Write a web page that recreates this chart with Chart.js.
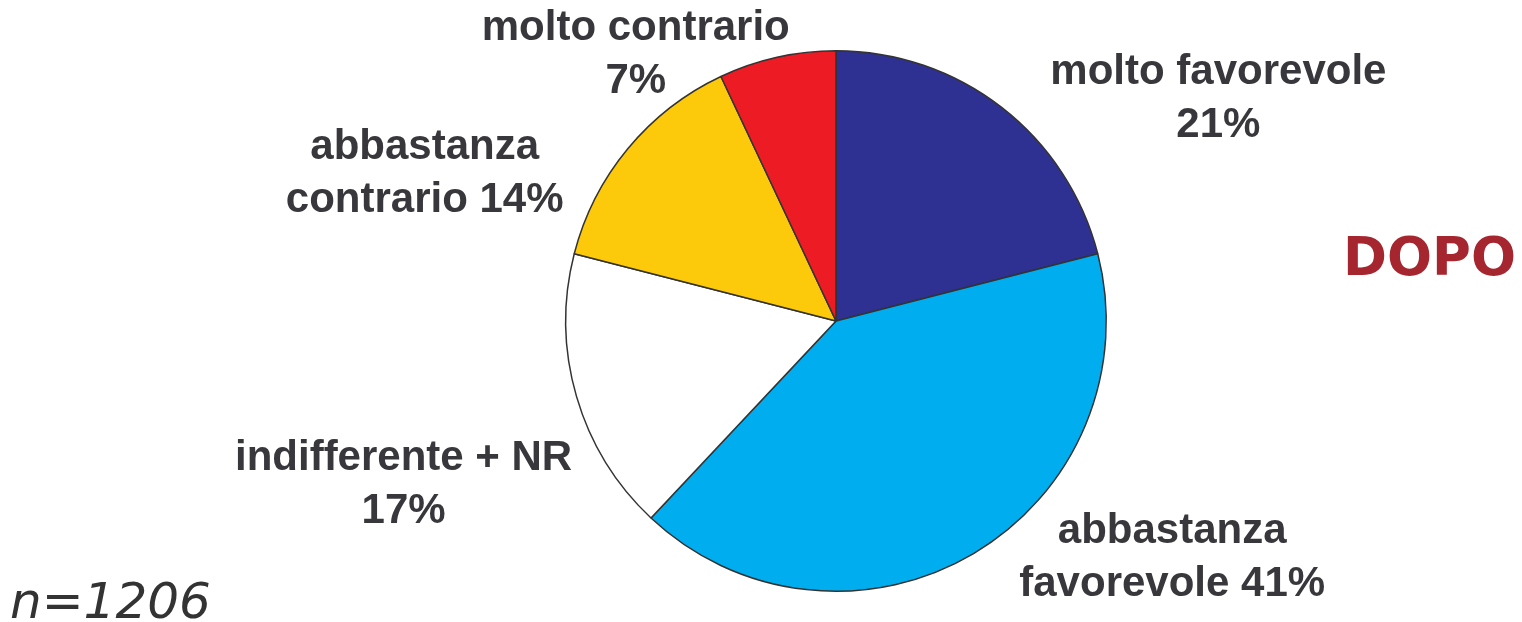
<!DOCTYPE html>
<html>
<head>
<meta charset="utf-8">
<script src="https://cdn.jsdelivr.net/npm/chart.js@4.4.0/dist/chart.umd.min.js"></script>
<style>
  html, body { margin: 0; padding: 0; background: #ffffff; }
  #wrap { position: relative; width: 1522px; height: 622px; }
</style>
</head>
<body>
<div id="wrap"><canvas id="pieChart" width="1522" height="622"></canvas></div>
<script>
// Data (clockwise from 12 o'clock)
const categories = ['molto favorevole', 'abbastanza favorevole', 'indifferente + NR', 'abbastanza contrario', 'molto contrario'];
const values = [21, 41, 17, 14, 7];
const sliceColors = ['#2e3192', '#00aeef', '#ffffff', '#fcca0a', '#ed1c24'];
// How each label is split across two lines
const labelLines = [
    ['molto favorevole', '21%'],
    ['abbastanza', 'favorevole 41%'],
    ['indifferente + NR', '17%'],
    ['abbastanza', 'contrario 14%'],
    ['molto contrario', '7%']
];
const title = 'DOPO';
const sampleNote = 'n=1206';

// Label anchor offsets, in units of the pie radius from its centre
const labelOffsets = [
    [1.415, -0.82],
    [1.244, 0.875],
    [-1.6, 0.605],
    [-1.522, -0.545],
    [-0.741, -0.985]
];

const labelPlugin = {
    id: 'sliceLabels',
    afterDraw(chart) {
        const ctx = chart.ctx;
        const arc = chart.getDatasetMeta(0).data[0];
        const cx = arc.x, cy = arc.y, r = arc.outerRadius;
        ctx.save();
        ctx.fillStyle = '#38373c';
        ctx.font = 'bold 42px "Liberation Sans", Arial, sans-serif';
        ctx.textAlign = 'center';
        ctx.textBaseline = 'middle';
        labelLines.forEach((lines, i) => {
            const x = cx + labelOffsets[i][0] * r;
            const y = cy + labelOffsets[i][1] * r;
            lines.forEach((line, j) => {
                ctx.fillText(line, x, y + (j - (lines.length - 1) / 2) * 53);
            });
        });

        // Title on the right
        ctx.fillStyle = '#a6262f';
        ctx.font = 'bold 53px "DejaVu Sans", sans-serif';
        ctx.textAlign = 'right';
        ctx.fillText(title, chart.width - 6, 261);

        // Sample size note
        ctx.fillStyle = '#333333';
        ctx.font = 'oblique 50px "DejaVu Sans", sans-serif';
        ctx.textAlign = 'left';
        ctx.textBaseline = 'alphabetic';
        ctx.fillText(sampleNote, 10, 618);
        ctx.restore();
    }
};

const ctx = document.getElementById('pieChart').getContext('2d');
new Chart(ctx, {
    type: 'pie',
    data: {
        labels: categories,
        datasets: [{
            data: values,
            backgroundColor: sliceColors,
            borderColor: '#333333',
            borderWidth: 1.5,
            borderAlign: 'center'
        }]
    },
    options: {
        responsive: false,
        animation: false,
        layout: {
            padding: { top: 50, bottom: 30, left: 565, right: 415 }
        },
        plugins: {
            legend: { display: false },
            tooltip: { enabled: false }
        }
    },
    plugins: [labelPlugin]
});
</script>
</body>
</html>
